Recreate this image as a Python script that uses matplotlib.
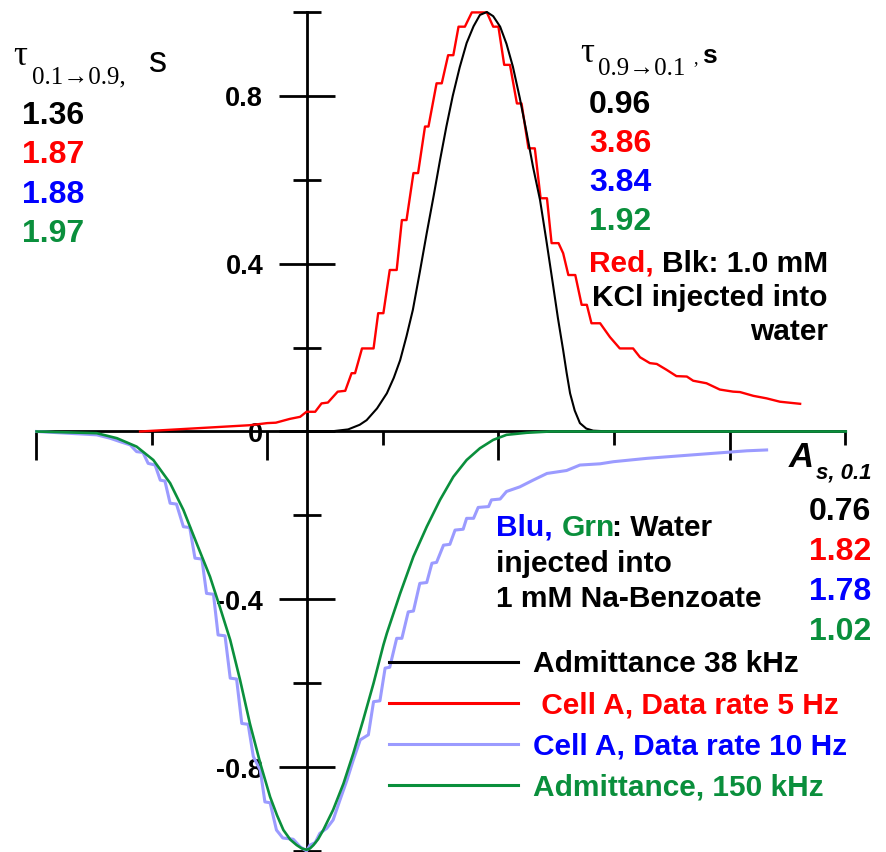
import matplotlib
matplotlib.use("Agg")
import matplotlib.pyplot as plt

W, H = 887, 852
plt.rcParams['font.family'] = ['Liberation Sans', 'DejaVu Sans']
plt.rcParams['font.weight'] = 'bold'

# ---------------- data (time in s, normalized signal) ----------------
black_t = [4.68, 5.09, 5.40, 5.60, 5.72, 5.90, 6.07, 6.19, 6.30, 6.41, 6.52, 6.64, 6.76, 6.88, 6.99,
           7.10, 7.21, 7.33, 7.45, 7.57, 7.68, 7.80, 7.91, 8.03, 8.14, 8.25, 8.37, 8.49, 8.60, 8.72,
           8.83, 8.94, 9.03, 9.12, 9.18, 9.24, 9.32, 9.41, 9.52, 9.64, 9.93]
black_y = [0.0, 0.0, 0.005, 0.016, 0.027, 0.055, 0.091, 0.128, 0.17, 0.227, 0.29, 0.38, 0.473, 0.562,
           0.647, 0.727, 0.80, 0.868, 0.926, 0.966, 0.993, 1.0, 0.99, 0.965, 0.924, 0.87, 0.795, 0.711,
           0.63, 0.552, 0.455, 0.354, 0.27, 0.194, 0.14, 0.091, 0.05, 0.02, 0.007, 0.002, 0.0]

red_t = [1.80, 3.70, 4.00, 4.15, 4.39, 4.57, 4.68, 4.83, 4.94, 5.05, 5.22, 5.35, 5.46, 5.52,
         5.64, 5.84, 5.92, 6.01, 6.12, 6.24, 6.33, 6.41, 6.53, 6.61, 6.73, 6.79, 6.93, 7.02,
         7.13, 7.22, 7.31, 7.42, 7.54, 7.80, 7.91, 8.00, 8.10, 8.20, 8.32, 8.40, 8.52, 8.63,
         8.73, 8.84, 8.92, 9.04, 9.12, 9.21, 9.33, 9.44, 9.53, 9.61, 9.76, 9.93, 10.10, 10.33,
         10.45, 10.62, 10.74, 10.91, 11.08, 11.26, 11.37, 11.60, 11.83, 12.06, 12.18, 12.41,
         12.64, 12.87, 13.22]
red_y = [0.0, 0.015, 0.02, 0.021, 0.03, 0.035, 0.047, 0.047, 0.067, 0.069, 0.095, 0.097, 0.139, 0.139,
         0.198, 0.198, 0.282, 0.282, 0.385, 0.385, 0.504, 0.504, 0.616, 0.616, 0.727, 0.727, 0.83, 0.83,
         0.897, 0.897, 0.965, 0.965, 0.999, 0.999, 0.965, 0.965, 0.874, 0.874, 0.782, 0.782, 0.675, 0.675,
         0.556, 0.556, 0.449, 0.449, 0.425, 0.373, 0.373, 0.302, 0.302, 0.258, 0.258, 0.225, 0.198, 0.198,
         0.177, 0.163, 0.161, 0.147, 0.132, 0.131, 0.121, 0.115, 0.10, 0.095, 0.094, 0.085,
         0.079, 0.071, 0.066]

blue_t = [0.01, 1.05, 1.28, 1.45, 1.63, 1.74, 1.85, 1.94, 2.06, 2.15, 2.23, 2.32, 2.43, 2.55, 2.66,
          2.75, 2.87, 2.95, 3.07, 3.15, 3.27, 3.36, 3.47, 3.56, 3.67, 3.76, 3.88, 3.96, 4.05, 4.16,
          4.27, 4.45, 4.57, 4.68, 4.74, 4.83, 4.91, 5.03, 5.14, 5.26, 5.38, 5.49, 5.61, 5.75, 5.84,
          5.95, 6.04, 6.12, 6.24, 6.33, 6.44, 6.53, 6.64, 6.76, 6.85, 6.93, 7.05, 7.16, 7.25, 7.39,
          7.45, 7.57, 7.65, 7.83, 7.88, 8.03, 8.14, 8.37, 8.60, 8.84, 9.18, 9.41, 9.76, 9.99, 10.57,
          11.14, 11.72, 12.30, 12.64]
blue_y = [0.0, -0.008, -0.016, -0.024, -0.032, -0.048, -0.05, -0.076, -0.08, -0.116, -0.118, -0.171,
          -0.173, -0.227, -0.229, -0.302, -0.304, -0.386, -0.388, -0.485, -0.487, -0.588, -0.590, -0.696,
          -0.698, -0.775, -0.807, -0.883, -0.885, -0.950, -0.969, -0.972, -0.99, -1.0, -0.986, -0.98,
          -0.958, -0.946, -0.926, -0.878, -0.831, -0.783, -0.735, -0.723, -0.644, -0.642, -0.564, -0.562,
          -0.493, -0.493, -0.43, -0.428, -0.362, -0.360, -0.314, -0.312, -0.271, -0.269, -0.235, -0.233,
          -0.207, -0.207, -0.181, -0.179, -0.163, -0.161, -0.143, -0.132, -0.116, -0.10, -0.093, -0.08,
          -0.077, -0.072, -0.064, -0.058, -0.052, -0.046, -0.044]

green_t = [0.01, 1.05, 1.40, 1.74, 2.03, 2.32, 2.55, 2.78, 3.01, 3.18, 3.36, 3.53, 3.70, 3.88, 4.05,
           4.17, 4.28, 4.40, 4.51, 4.60, 4.68, 4.74, 4.80, 4.88, 4.97, 5.14, 5.32, 5.49, 5.66, 5.84,
           6.01, 6.07, 6.30, 6.53, 6.76, 6.99, 7.22, 7.45, 7.68, 7.91, 8.14, 8.49, 8.89, 14.01]
green_y = [0.0, -0.004, -0.016, -0.036, -0.068, -0.123, -0.187, -0.267, -0.346, -0.418, -0.497, -0.592,
           -0.696, -0.791, -0.871, -0.915, -0.95, -0.973, -0.986, -0.994, -0.997, -0.994, -0.986, -0.972,
           -0.95, -0.902, -0.839, -0.767, -0.688, -0.60, -0.509, -0.481, -0.386, -0.298, -0.227, -0.163,
           -0.108, -0.068, -0.04, -0.02, -0.008, -0.003, 0.0, 0.0]

legend_labels = ["Admittance 38 kHz", " Cell A, Data rate 5 Hz", "Cell A, Data rate 10 Hz",
                 "Admittance, 150 kHz"]
y_major = [-0.8, -0.4, 0.0, 0.4, 0.8]
y_minor = [-1.0, -0.6, -0.2, 0.2, 0.6, 1.0]
y_ticklabels = ["-0.8", "-0.4", "0", "0.4", "0.8"]
x_major = [0, 4, 8, 12]
x_minor = [2, 6, 10, 14]

rise_times = ["1.36", "1.87", "1.88", "1.97"]
fall_times = ["0.96", "3.86", "3.84", "1.92"]
asym = ["0.76", "1.82", "1.78", "1.02"]

C_BLACK = "#000000"
C_RED = "#ff0000"
C_BLUE = "#9b9bff"
C_GREEN = "#0a8f3c"
T_BLUE = "#0000ff"
T_GREEN = "#0a8f3c"
txt_colors = [C_BLACK, C_RED, T_BLUE, T_GREEN]

# ---------------- figure ----------------
fig = plt.figure(figsize=(W / 100, H / 100), dpi=100)
ax = fig.add_axes([0, 0, 1, 1])
ax.set_xlim(-0.623, 14.723)
ax.set_ylim(-1.0024, 1.0286)
ax.patch.set_visible(False)

y_axis_t = 4.68
for s in ["top", "right"]:
    ax.spines[s].set_visible(False)
ax.spines["left"].set_position(("data", y_axis_t))
ax.spines["bottom"].set_position(("data", 0))
ax.spines["left"].set_bounds(-1.0, 1.0)
ax.spines["bottom"].set_bounds(0, 14)
for s in ["left", "bottom"]:
    ax.spines[s].set_linewidth(2.0)
    ax.spines[s].set_zorder(1)

ax.set_xticks(x_major)
ax.set_xticks(x_minor, minor=True)
ax.set_yticks(y_major)
ax.set_yticks(y_minor, minor=True)
ax.tick_params(axis="x", which="major", direction="out", length=21, width=2.0, labelbottom=False)
ax.tick_params(axis="x", which="minor", direction="out", length=10, width=2.0)
ax.tick_params(axis="y", which="major", direction="inout", length=40, width=2.0, labelleft=False)
ax.tick_params(axis="y", which="minor", direction="inout", length=20, width=2.0)

for v, lab in zip(y_major, y_ticklabels):
    ax.text(3.93, v - 0.025, lab, ha="right", va="baseline", fontsize=19.5, fontweight="bold",
            color="black")

l_red, = ax.plot(red_t, red_y, color=C_RED, lw=1.7, zorder=3)
l_black, = ax.plot(black_t, black_y, color=C_BLACK, lw=1.5, zorder=4)
l_blue, = ax.plot(blue_t, blue_y, color=C_BLUE, lw=2.2, zorder=3)
l_green, = ax.plot(green_t, green_y, color=C_GREEN, lw=1.9, zorder=5)

leg = ax.legend([l_black, l_red, l_blue, l_green], legend_labels, loc="upper left",
                bbox_to_anchor=(389 / W, 1 - 650 / H), bbox_transform=fig.transFigure,
                frameon=False, fontsize=21.5, handlelength=4.31, handletextpad=0.5,
                labelspacing=0.44, borderpad=0, borderaxespad=0)
for t, c in zip(leg.get_texts(), txt_colors):
    t.set_color(c)
    t.set_fontweight("bold")
for h in leg.legend_handles:
    h.set_linewidth(2.2)


def ftext(x, y, s, **kw):
    kw.setdefault("va", "baseline")
    return fig.text(x / W, 1 - y / H, s, **kw)


SERIF = ["Liberation Serif", "DejaVu Serif"]
# left tau header
ftext(13, 65, "τ", family=SERIF, fontweight="normal", fontsize=25)
ftext(32, 83, "0.1→0.9,", family=SERIF, fontweight="normal", fontsize=18)
ftext(149, 72, "s", fontweight="normal", fontsize=26)
for i, (v, c) in enumerate(zip(rise_times, txt_colors)):
    ftext(22, 124 + 39.3 * i, v, color=c, fontsize=23, fontweight="bold")

# right tau header
ftext(580, 62, "τ", family=SERIF, fontweight="normal", fontsize=25)
ftext(598, 75, "0.9→0.1", family=SERIF, fontweight="normal", fontsize=18)
ftext(693, 63, ",", family=SERIF, fontweight="normal", fontsize=13)
ftext(702, 63, "s", fontsize=19, fontweight="bold")
for i, (v, c) in enumerate(zip(fall_times, txt_colors)):
    ftext(589, 113 + 39 * i, v, color=c, fontsize=23, fontweight="bold")

# KCl annotation
ftext(589, 272, "Red,", color=C_RED, fontsize=21.5, fontweight="bold")
ftext(828, 272, "Blk: 1.0 mM", color="black", fontsize=21.5, fontweight="bold", ha="right")
ftext(828, 306, "KCl injected into", color="black", fontsize=21.5, fontweight="bold", ha="right")
ftext(828, 340, "water", color="black", fontsize=21.5, fontweight="bold", ha="right")

# Benzoate annotation
ftext(496, 536, "Blu,", color=T_BLUE, fontsize=21.5, fontweight="bold")
ftext(562, 536, "Grn", color=T_GREEN, fontsize=21.5, fontweight="bold")
ftext(612, 536, ": Water", color="black", fontsize=21.5, fontweight="bold")
ftext(496, 571.5, "injected into", color="black", fontsize=21.5, fontweight="bold")
ftext(496, 607, "1 mM Na-Benzoate", color="black", fontsize=21.5, fontweight="bold")

# A_s,0.1
ftext(789, 467, "A", fontsize=25, fontweight="bold", style="italic")
ftext(816, 478, "s, 0.1", fontsize=16, fontweight="bold", style="italic")
for i, (v, c) in enumerate(zip(asym, txt_colors)):
    ftext(871, 520 + 40 * i, v, color=c, fontsize=23, fontweight="bold", ha="right")

fig.savefig("out.png", dpi=100)
